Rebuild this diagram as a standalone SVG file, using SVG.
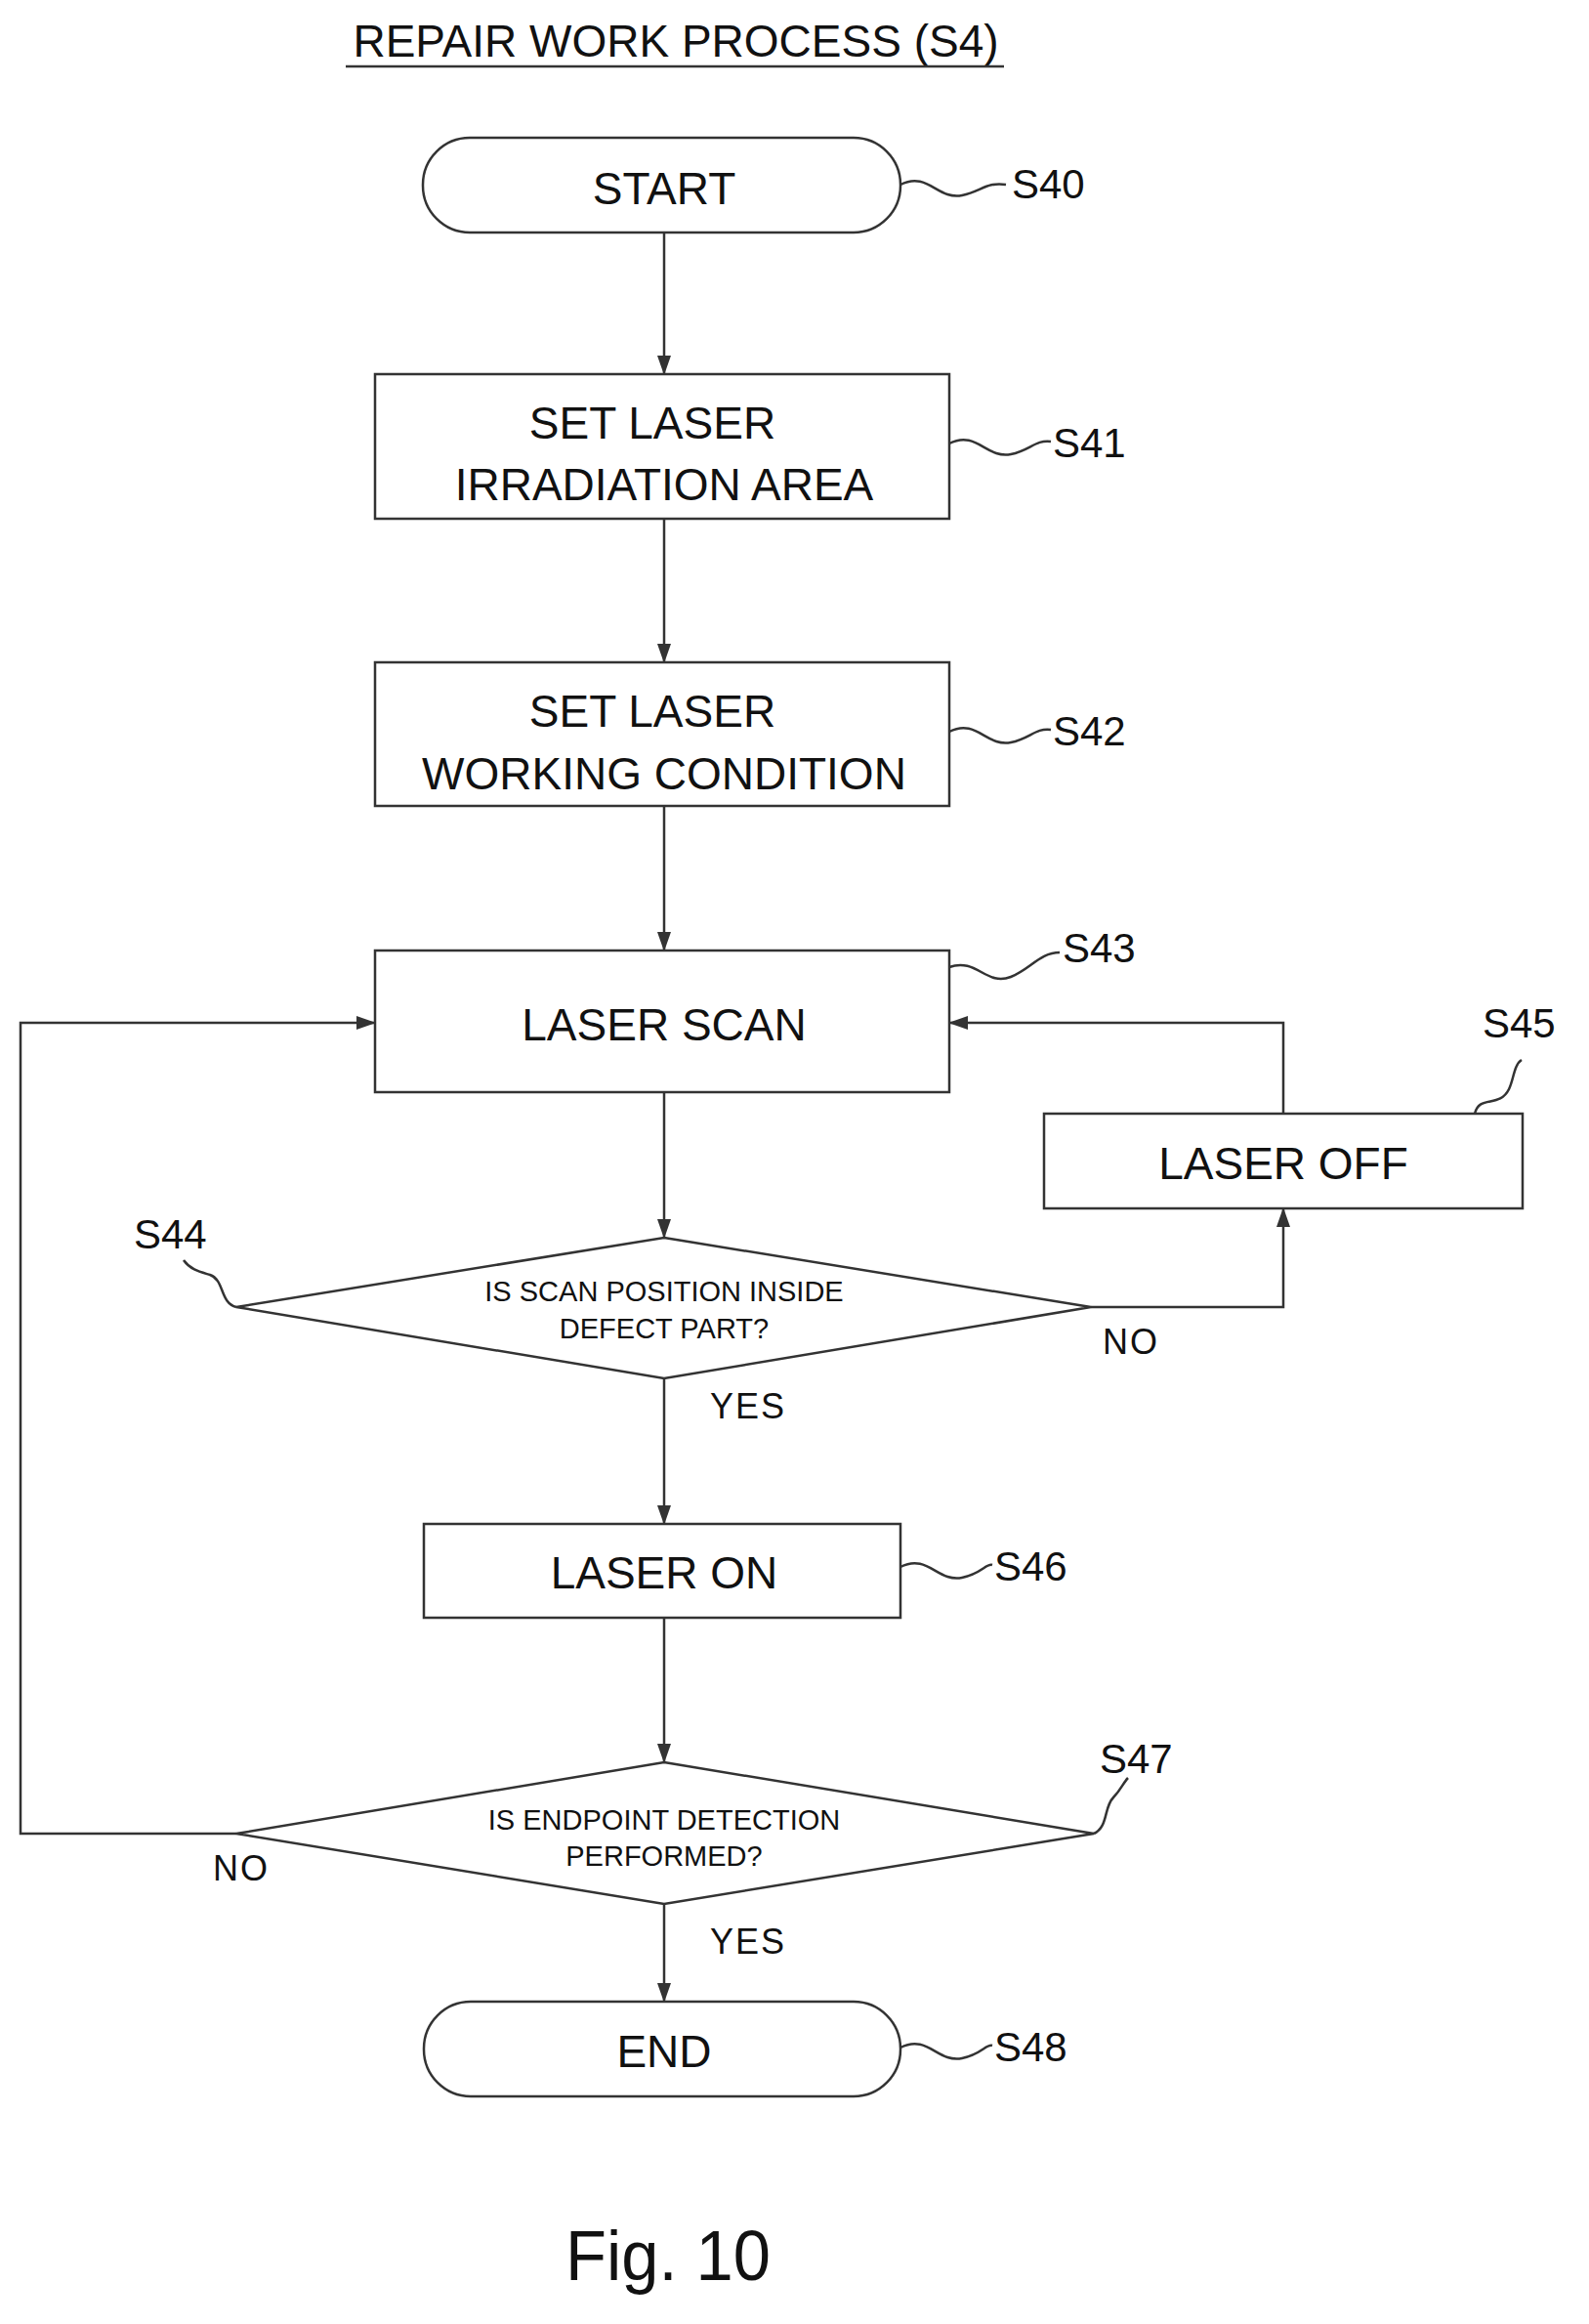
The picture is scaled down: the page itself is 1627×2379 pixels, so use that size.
<svg xmlns="http://www.w3.org/2000/svg" width="1627" height="2379" viewBox="0 0 1627 2379">
<style>
.s{fill:#fff;stroke:#333;stroke-width:2.5}
.l{fill:none;stroke:#333;stroke-width:2.5}
.t{font-family:"Liberation Sans",Arial,sans-serif;font-size:46px;fill:#111;text-anchor:middle}
.m{font-family:"Liberation Sans",Arial,sans-serif;font-size:29px;fill:#111;text-anchor:middle}
.lab{font-family:"Liberation Sans",Arial,sans-serif;font-size:42px;fill:#111;text-anchor:start}
.yn{font-family:"Liberation Sans",Arial,sans-serif;font-size:36px;fill:#111;text-anchor:middle;letter-spacing:2px}
</style>
<defs><marker id="a" markerWidth="20" markerHeight="14" refX="19" refY="7" orient="auto" markerUnits="userSpaceOnUse"><path d="M0,0 L20,7 L0,14 z" fill="#333"/></marker></defs>
<text class="t" x="692" y="58" font-size="44">REPAIR WORK PROCESS (S4)</text>
<line class="l" x1="354" y1="68" x2="1028" y2="68"/>
<g id="connectors">
<line class="l" x1="680" y1="238" x2="680" y2="383" marker-end="url(#a)"/>
<line class="l" x1="680" y1="531" x2="680" y2="678" marker-end="url(#a)"/>
<line class="l" x1="680" y1="825" x2="680" y2="973" marker-end="url(#a)"/>
<line class="l" x1="680" y1="1118" x2="680" y2="1267" marker-end="url(#a)"/>
<polyline class="l" points="1117,1338 1314,1338 1314,1237" marker-end="url(#a)"/>
<polyline class="l" points="1314,1140 1314,1047 972,1047" marker-end="url(#a)"/>
<line class="l" x1="680" y1="1411" x2="680" y2="1560" marker-end="url(#a)"/>
<line class="l" x1="680" y1="1656" x2="680" y2="1804" marker-end="url(#a)"/>
<polyline class="l" points="242,1877 21,1877 21,1047 384,1047" marker-end="url(#a)"/>
<line class="l" x1="680" y1="1949" x2="680" y2="2049" marker-end="url(#a)"/>
<text class="yn" x="1158" y="1386">NO</text>
<text class="yn" x="766" y="1452">YES</text>
<text class="yn" x="247" y="1925">NO</text>
<text class="yn" x="766" y="2000">YES</text>
</g>
<g id="S40"><rect class="s" x="433" y="141" width="489" height="97" rx="48"/><text class="t" x="680" y="209">START</text>
<path class="l" d="M922,189 C950,175 960,205 985,200 C1005,196 1010,186 1030,189"/><text class="lab" x="1036" y="203">S40</text></g>
<g id="S41"><rect class="s" x="384" y="383" width="588" height="148"/><text class="t" x="668" y="449">SET LASER</text><text class="t" x="680" y="512">IRRADIATION AREA</text>
<path class="l" d="M972,454 C1000,440 1010,470 1035,465 C1055,461 1060,450 1076,452"/><text class="lab" x="1078" y="468">S41</text></g>
<g id="S42"><rect class="s" x="384" y="678" width="588" height="147"/><text class="t" x="668" y="744">SET LASER</text><text class="t" x="680" y="808">WORKING CONDITION</text>
<path class="l" d="M972,749 C1000,735 1010,765 1035,760 C1055,756 1060,745 1076,747"/><text class="lab" x="1078" y="763">S42</text></g>
<g id="S43"><rect class="s" x="384" y="973" width="588" height="145"/><text class="t" x="680" y="1065">LASER SCAN</text>
<path class="l" d="M972,990 C1000,980 1010,1010 1035,1000 C1055,992 1065,975 1085,975"/><text class="lab" x="1088" y="985">S43</text></g>
<g id="S44"><polygon class="s" points="680,1267 1117,1338 680,1411 242,1338"/><text class="m" x="680" y="1332">IS SCAN POSITION INSIDE</text><text class="m" x="680" y="1370">DEFECT PART?</text>
<path class="l" d="M242,1338 C225,1334 230,1310 215,1305 C205,1302 195,1300 188,1290"/><text class="lab" x="137" y="1278">S44</text></g>
<g id="S45"><rect class="s" x="1069" y="1140" width="490" height="97"/><text class="t" x="1314" y="1207">LASER OFF</text>
<path class="l" d="M1510,1140 C1515,1120 1535,1135 1545,1115 C1550,1105 1550,1090 1558,1085"/><text class="lab" x="1518" y="1062">S45</text></g>
<g id="S46"><rect class="s" x="434" y="1560" width="488" height="96"/><text class="t" x="680" y="1626">LASER ON</text>
<path class="l" d="M922,1604 C950,1590 960,1620 985,1615 C1005,1611 1010,1600 1016,1602"/><text class="lab" x="1018" y="1618">S46</text></g>
<g id="S47"><polygon class="s" points="680,1804 1120,1877 680,1949 242,1877"/><text class="m" x="680" y="1873">IS ENDPOINT DETECTION</text><text class="m" x="680" y="1910">PERFORMED?</text>
<path class="l" d="M1120,1877 C1135,1870 1130,1850 1140,1840 C1148,1832 1150,1825 1155,1820"/><text class="lab" x="1126" y="1815">S47</text></g>
<g id="S48"><rect class="s" x="434" y="2049" width="488" height="97" rx="48"/><text class="t" x="680" y="2116">END</text>
<path class="l" d="M922,2096 C950,2082 960,2112 985,2107 C1005,2103 1010,2092 1016,2094"/><text class="lab" x="1018" y="2110">S48</text></g>
<text class="t" x="684" y="2334" font-size="72" textLength="210" lengthAdjust="spacingAndGlyphs" style="font-size:72px">Fig. 10</text>
</svg>
